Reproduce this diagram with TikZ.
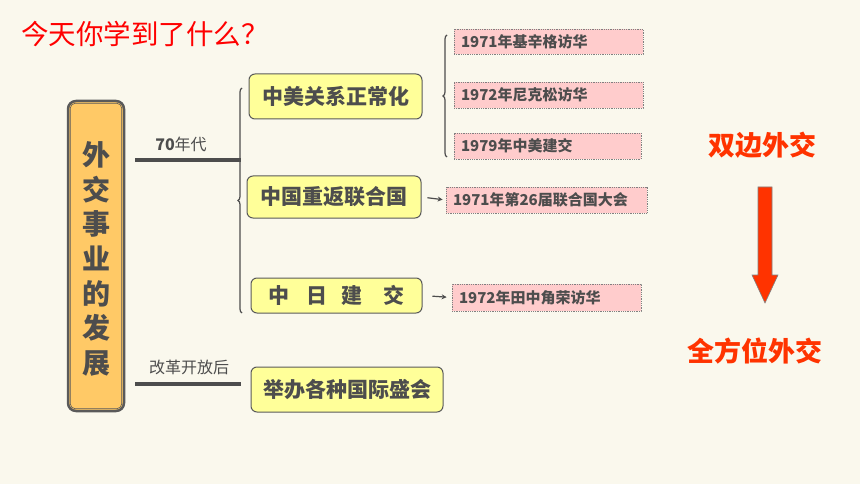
\documentclass[tikz,border=0pt]{standalone}
\usepackage{fontspec}
\setmainfont{Noto Sans CJK SC}
\usetikzlibrary{decorations.pathreplacing,arrows.meta}
\definecolor{bgcream}{RGB}{250,248,237}
\definecolor{inkgray}{RGB}{77,77,77}
\definecolor{boxline}{RGB}{90,90,90}
\definecolor{topicfill}{RGB}{255,255,153}
\definecolor{eventfill}{RGB}{255,204,204}
\definecolor{mainfill}{RGB}{255,201,102}
\definecolor{hotred}{RGB}{255,51,0}
\tikzset{
topic/.style={draw=boxline,line width=1pt,fill=topicfill,rounded corners=6pt,text=inkgray,font=\fontsize{21}{25}\selectfont\bfseries,inner sep=0pt},
event/.style={draw=gray,densely dotted,line width=0.8pt,fill=eventfill,text=inkgray,font=\fontsize{15}{18}\selectfont\bfseries,inner xsep=7pt,inner ysep=0pt,align=left},
era/.style={text=inkgray,font=\fontsize{16}{19}\selectfont},
branch/.style={draw=inkgray,line width=4pt},
bracket/.style={draw=inkgray,line width=1.2pt,decorate,decoration={brace,amplitude=4pt}},
hint/.style={draw=inkgray,line width=1.2pt,-{Stealth[length=5pt,width=5pt]}}
}
\begin{document}
\begin{tikzpicture}[x=1pt,y=-1pt]
\def\gap{10pt}
\fill[bgcream] (0,0) rectangle (860,484);
\useasboundingbox (0,0) rectangle (860,484);
\node[text=red,font=\fontsize{27.5}{31}\selectfont] (title) at (145,34) {今天你学到了什么？};
\node[draw=boxline,line width=2.5pt,fill=mainfill,rounded corners=8pt,minimum width=56pt,minimum height=310pt] (main) at (96,256) {};
\draw[boxline,line width=0.6pt,rounded corners=5pt] ([shift={(3.5pt,-3.5pt)}]main.north west) rectangle ([shift={(-3.5pt,3.5pt)}]main.south east);
\node[text=inkgray,font=\fontsize{28}{34.7}\selectfont\bfseries,align=center] (maintext) at (96,259) {外\\交\\事\\业\\的\\发\\展};
\node[topic,minimum width=173pt,minimum height=45pt] (normal) at (335.5,96.5) {中美关系正常化};
\node[topic,minimum width=174pt,minimum height=42pt] (unseat) at (334,197) {中国重返联合国};
\node[topic,minimum width=171pt,minimum height=35pt] (cnjp) at (336.5,295.5) {中\hspace{0.8em}日\hspace{0.7em}建\hspace{1em}交};
\node[topic,minimum width=192pt,minimum height=45pt] (events) at (347,389.5) {举办各种国际盛会};
\node[event,text width=175pt,minimum height=25pt] (kissinger) at (548.5,41.5) {1971年基辛格访华};
\node[event,text width=175pt,minimum height=26pt] (nixon) at (548.5,95) {1972年尼克松访华};
\node[event,text width=173pt,minimum height=26pt] (ties) at (547.5,146) {1979年中美建交};
\node[event,text width=187pt,minimum height=26pt] (session) at (546.5,200) {1971年第26届联合国大会};
\node[event,text width=175pt,minimum height=27pt] (tanaka) at (546.5,297.5) {1972年田中角荣访华};
\coordinate (seventies) at (241,160);
\coordinate (reform) at (241,384);
\draw[branch] ([xshift=\gap]main.east |- seventies) -- (seventies);
\draw[branch] ([xshift=\gap]main.east |- reform) -- (reform);
\node[era] (seventieslabel) at (181,144) {{\bfseries 70}年代};
\node[era] (reformlabel) at (189,367) {改革开放后};
\draw[bracket] (242,313) -- (242,88);
\draw[bracket] (447,157) -- (447,35);
\draw[hint,shorten <=6pt,shorten >=3pt] (unseat.east) -- (session.west);
\draw[hint,shorten <=10pt,shorten >=5pt] (cnjp.east) -- (tanaka.west);
\node[text=hotred,font=\fontsize{27}{30}\selectfont\bfseries] (bilateral) at (762,145) {双边外交};
\node[text=hotred,font=\fontsize{27}{30}\selectfont\bfseries] (omni) at (755,351) {全方位外交};
\draw[gray,line width=0.6pt,fill=hotred] (758,187) -- (772,187) -- (772,275) -- (778,275) -- (765,303) -- (752,275) -- (758,275) -- cycle;
\end{tikzpicture}
\end{document}
